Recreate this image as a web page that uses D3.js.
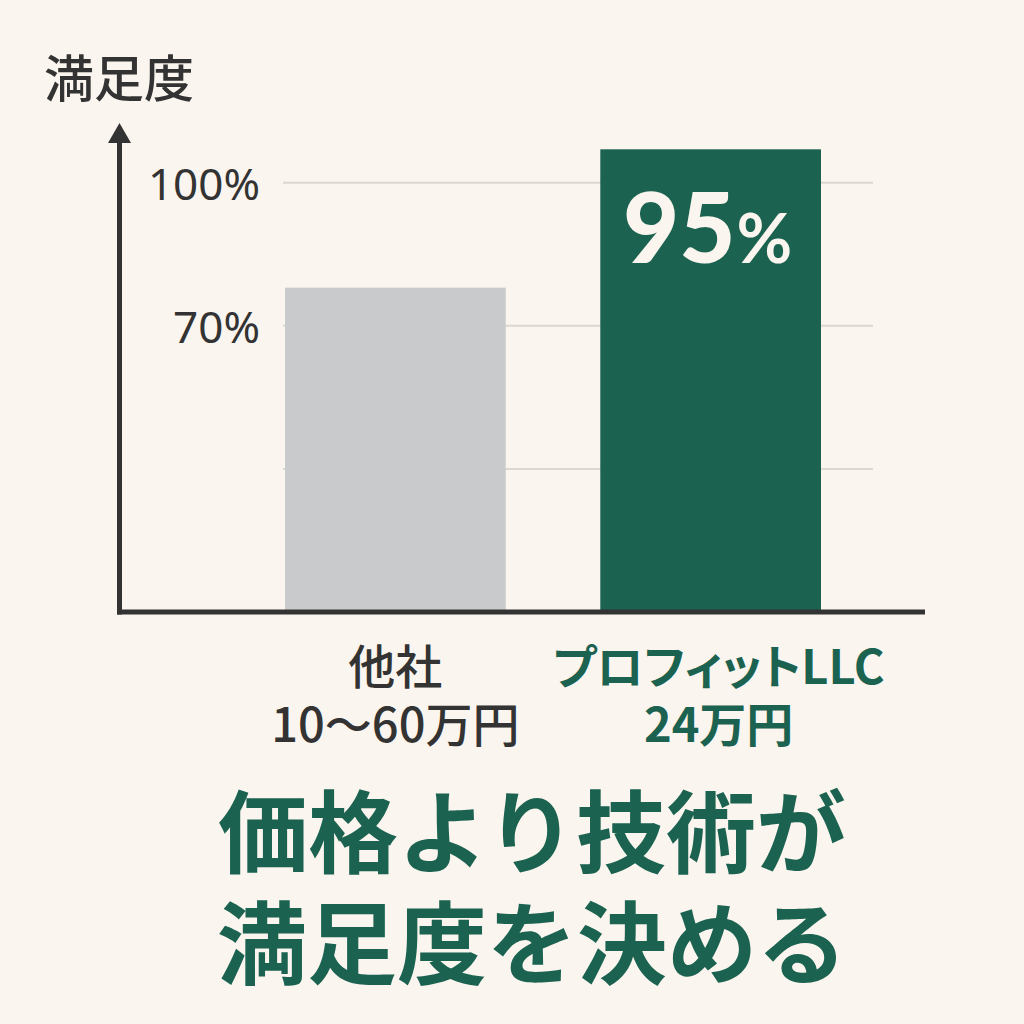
<!DOCTYPE html>
<html lang="ja">
<head>
<meta charset="utf-8">
<script src="https://cdn.jsdelivr.net/npm/d3@7"></script>
<style>
    body { margin: 0; background: #fbf5ef; }
    svg { display: block; }
</style>
</head>
<body>
<svg></svg>
<script>

// chart data
const categories = ['他社', 'プロフィットLLC']
const categoryNotes = ['10〜60万円', '24万円']
const barHeights = [78, 107] // bar tops as they sit against the % axis
const valueLabels = ['', '95'] // printed value inside the bar
const gridValues = [40, 70, 100]
const tickLabels = ['', '70%', '100%']
const yTitle = '満足度'
const headline = ['価格より技術が', '満足度を決める']

const renderChart = () => {

    const width = 1024
    const height = 1024

    const green = '#1b6350'
    const grey = '#c8cacb'
    const ink = '#333333'
    const cream = '#fbf5ef'
    const jp = '"Noto Sans CJK JP", "Noto Sans", sans-serif'

    // plot area edges
    const axisX = 119.5
    const baseY = 612
    const axisEnd = 925

    const yScale = d3.scaleLinear()
        .domain([10, 110]) // the baseline is not zero in the original
        .range([baseY, 135])

    const xScale = d3.scaleBand()
        .domain(categories)
        .range([285, 821])
        .paddingInner(0.3)

    const svg = d3.select('svg')
        .attr('width', width)
        .attr('height', height)

    svg.append('rect')
        .attr('width', width)
        .attr('height', height)
        .attr('fill', cream)

    // gridlines
    svg.selectAll('.grid')
        .data(gridValues)
        .enter()
        .append('line')
            .attr('class', 'grid')
            .attr('x1', 283)
            .attr('x2', 873)
            .attr('y1', d => yScale(d))
            .attr('y2', d => yScale(d))
            .style('stroke', '#dbd7d1')
            .style('stroke-width', 2)

    // tick labels (the 40% line has none)
    svg.selectAll('.tick-label')
        .data(gridValues)
        .enter()
        .append('text')
            .attr('class', 'tick-label')
            .attr('x', 260)
            .attr('y', d => yScale(d) + 17)
            .attr('text-anchor', 'end')
            .style('font-family', '"Noto Sans", sans-serif')
            .style('font-size', '44px')
            .style('fill', ink)
            .text((d, i) => tickLabels[i])

    // bars
    svg.selectAll('.bar')
        .data(categories)
        .enter()
        .append('rect')
            .attr('class', 'bar')
            .attr('x', d => xScale(d))
            .attr('width', xScale.bandwidth())
            .attr('y', (d, i) => yScale(barHeights[i]))
            .attr('height', (d, i) => baseY - yScale(barHeights[i]))
            .attr('fill', (d, i) => i === 1 ? green : grey)

    // value inside the green bar
    const valueText = svg.selectAll('.value')
        .data(categories.filter((d, i) => valueLabels[i] !== ''))
        .enter()
        .append('text')
            .attr('class', 'value')
            .attr('x', d => xScale(d) + xScale.bandwidth() / 2 - 3)
            .attr('y', 263)
            .attr('text-anchor', 'middle')
            .style('font-family', 'Lato, sans-serif')
            .style('font-weight', 900)
            .style('fill', cream)

    valueText.append('tspan')
        .style('font-size', '97px')
        .text(d => valueLabels[categories.indexOf(d)])
    valueText.append('tspan')
        .attr('dx', 1)
        .style('font-size', '68px')
        .style('font-weight', 700)
        .text('%')

    // axes with arrow
    svg.append('line')
        .attr('x1', axisX).attr('x2', axisX)
        .attr('y1', baseY + 2.5).attr('y2', 140)
        .style('stroke', ink)
        .style('stroke-width', 5)

    svg.append('path')
        .attr('d', `M${axisX},123 L${axisX + 11.5},143 L${axisX - 11.5},143 Z`)
        .attr('fill', ink)

    svg.append('line')
        .attr('x1', axisX - 2.5).attr('x2', axisEnd)
        .attr('y1', baseY).attr('y2', baseY)
        .style('stroke', ink)
        .style('stroke-width', 5)

    svg.append('text')
        .attr('x', 44)
        .attr('y', 97)
        .style('font-family', jp)
        .style('font-size', '50px')
        .style('font-weight', 500)
        .style('fill', ink)
        .text(yTitle)

    // category labels, one text per line
    const labelLines = categories.flatMap((d, i) => [
        { cat: d, i: i, line: 0, text: d },
        { cat: d, i: i, line: 1, text: categoryNotes[i] }
    ])

    svg.selectAll('.cat')
        .data(labelLines)
        .enter()
        .append('text')
            .attr('class', 'cat')
            .attr('x', d => xScale(d.cat) + xScale.bandwidth() / 2 + (d.i === 1 ? 8 : 0))
            .attr('y', d => d.line === 0 ? 684 : 742)
            .attr('text-anchor', 'middle')
            .style('font-family', jp)
            .style('font-size', '47px')
            .style('font-weight', d => d.i === 1 ? 700 : 500)
            .style('font-feature-settings', '"palt"')
            .style('fill', d => d.i === 1 ? green : ink)
            .text(d => d.text)

    // headline
    svg.selectAll('.headline')
        .data(headline)
        .enter()
        .append('text')
            .attr('class', 'headline')
            .attr('x', 532)
            .attr('y', (d, i) => 866 + i * 111)
            .attr('text-anchor', 'middle')
            .style('font-family', jp)
            .style('font-size', '90px')
            .style('font-weight', 700)
            .style('fill', green)
            .text(d => d)
}

renderChart()
</script>
</body>
</html>
